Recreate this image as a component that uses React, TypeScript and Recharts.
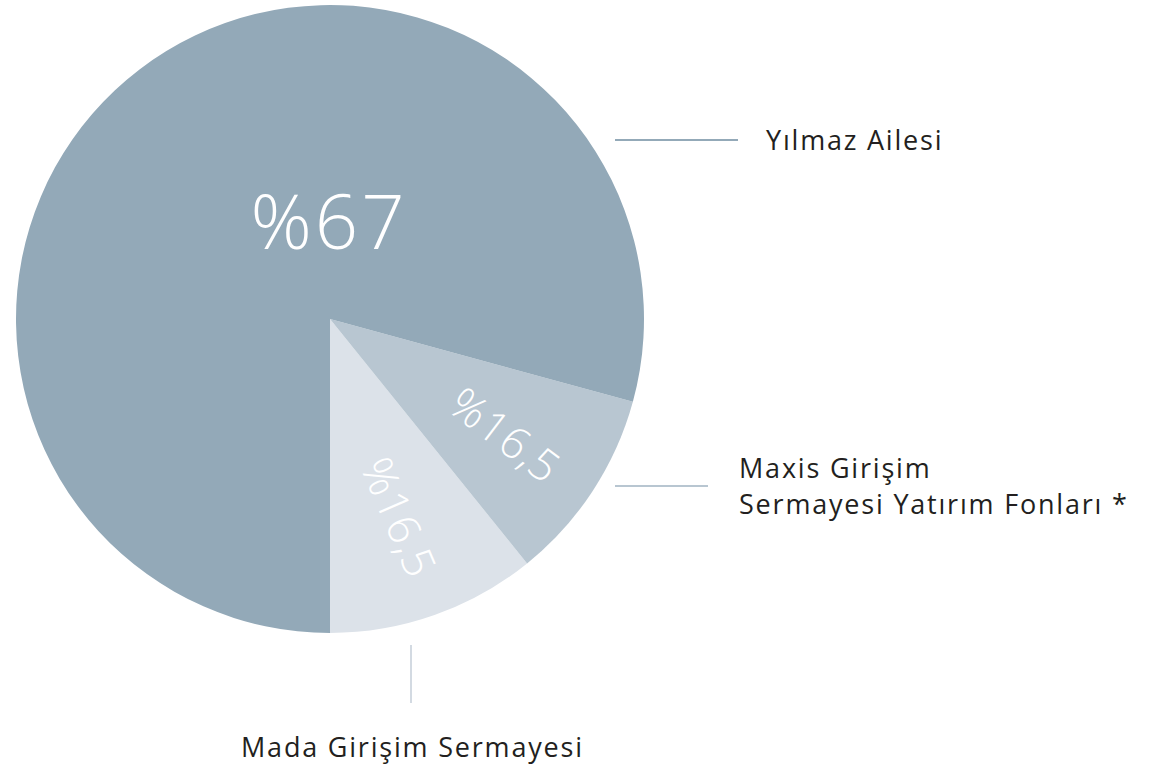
import * as React from "react";
import { PieChart, Pie, Cell } from "recharts";

// slice order: counter-clockwise from 6 o'clock
const names = ["Mada Girişim Sermayesi", "Maxis Girişim Sermayesi Yatırım Fonları *", "Yılmaz Ailesi"];
const values = [10.8, 9.95, 79.25];
const pctLabels = ["%16,5", "%16,5", "%67"];
const colors = ["#dce2e9", "#b8c6d1", "#93a9b8"];

const data = names.map((name, i) => ({ name, value: values[i] }));

const FONT = "'Open Sans', sans-serif";
const TEXT = "#231f20";
const NAME_SPACING = 1.8;

const RADIAN = Math.PI / 180;

function SliceLabel(props: any) {
  const { midAngle, index } = props;
  // leader lines and names are placed against the apex of the pie
  const cx = props.cx - 3;
  const cy = props.cy + 1;
  if (index === 2) {
    return (
      <g>
        <text x={cx + 2} y={cy - 71} textAnchor="middle" fill="#fff" fontSize={76} fontWeight={300} letterSpacing={3} fontFamily={FONT}>
          {pctLabels[index]}
        </text>
        <line x1={cx + 288} x2={cx + 411} y1={cy - 180} y2={cy - 180} stroke="#93a9b8" strokeWidth={2} />
        <text x={cx + 439} y={cy - 170} fill={TEXT} fontSize={27} letterSpacing={NAME_SPACING} fontFamily={FONT}>
          {names[index]}
        </text>
      </g>
    );
  }
  const r = 210;
  const x = props.cx + r * Math.cos(-midAngle * RADIAN);
  const y = props.cy + r * Math.sin(-midAngle * RADIAN);
  const pct = (
    <text
      x={x}
      y={y}
      textAnchor="middle"
      dominantBaseline="central"
      fill="#fff"
      fontSize={44}
      fontWeight={300}
      letterSpacing={1}
      fontFamily={FONT}
      transform={`rotate(${-midAngle + (index === 0 ? -4 : 4)} ${x} ${y})`}
    >
      {pctLabels[index]}
    </text>
  );
  if (index === 1) {
    return (
      <g>
        {pct}
        <line x1={cx + 288} x2={cx + 381} y1={cy + 166} y2={cy + 166} stroke="#b8c6d1" strokeWidth={2} />
        <text x={cx + 412} y={cy + 158} fill={TEXT} fontSize={27} letterSpacing={NAME_SPACING} fontFamily={FONT}>
          <tspan x={cx + 412}>Maxis Girişim</tspan>
          <tspan x={cx + 412} dy={36}>Sermayesi Yatırım Fonları *</tspan>
        </text>
      </g>
    );
  }
  return (
    <g>
      {pct}
      <line x1={cx + 84} x2={cx + 84} y1={cy + 325} y2={cy + 383} stroke="#d3dae2" strokeWidth={2} />
      <text x={cx - 86} y={cy + 437} fill={TEXT} fontSize={27} letterSpacing={NAME_SPACING} fontFamily={FONT}>
        {names[index]}
      </text>
    </g>
  );
}

export default function App() {
  return (
    <div style={{ position: "absolute", left: 0, top: 0, background: "#fff" }}>
      <PieChart width={1158} height={768} margin={{ top: 0, right: 0, bottom: 0, left: 0 }}>
        <Pie
          data={data}
          dataKey="value"
          cx={330}
          cy={319}
          outerRadius={314}
          startAngle={-90}
          endAngle={270}
          stroke="none"
          label={SliceLabel}
          labelLine={false}
          isAnimationActive={false}
        >
          {data.map((d, i) => (
            <Cell key={d.name} fill={colors[i]} />
          ))}
        </Pie>
      </PieChart>
    </div>
  );
}
